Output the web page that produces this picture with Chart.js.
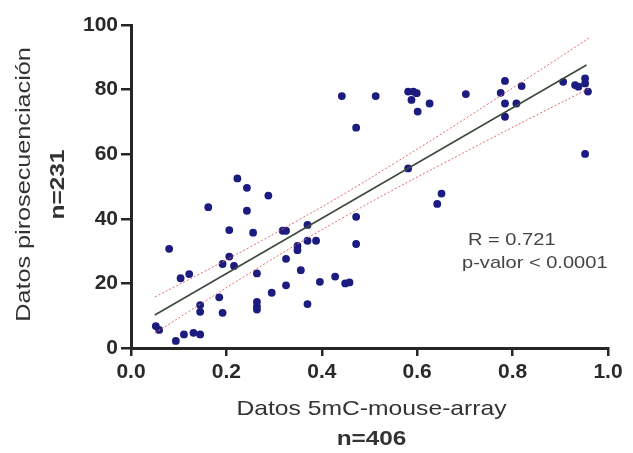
<!DOCTYPE html>
<html lang="es">
<head>
  <meta charset="UTF-8" />
  <title>Correlación pirosecuenciación vs 5mC-mouse-array</title>
  <script src="https://cdn.jsdelivr.net/npm/chart.js"></script>
  <style>
    html, body {
      margin: 0;
      padding: 0;
      background: #ffffff;
    }
    canvas {
      display: block;
    }
  </style>
</head>
<body>
  <canvas id="chart" width="633" height="453"></canvas>

  <script>
    // scatter values
    const arrayX = [
      0.223, 0.243, 0.288, 0.162, 0.243, 0.472, 0.206, 0.256, 0.318, 0.325,
      0.370, 0.080, 0.349, 0.349, 0.370, 0.388, 0.472, 0.206, 0.192, 0.216,
      0.325, 0.104, 0.122, 0.264, 0.356, 0.396, 0.428, 0.449, 0.458, 0.325,
      0.295, 0.185, 0.145, 0.145, 0.192, 0.264, 0.264, 0.264, 0.370, 0.052,
      0.059, 0.094, 0.111, 0.131, 0.145, 0.442, 0.513, 0.581, 0.592, 0.599,
      0.588, 0.601, 0.626, 0.472, 0.702, 0.784, 0.775, 0.819, 0.784, 0.808,
      0.784, 0.906, 0.931, 0.938, 0.952, 0.952, 0.958, 0.952, 0.581, 0.651,
      0.642
    ];
    const piroY = [
      52.5, 49.6, 47.2, 43.6, 42.5, 40.6, 36.5, 35.7, 36.3, 36.3,
      38.1, 30.7, 31.6, 30.3, 33.2, 33.2, 32.2, 28.3, 26.0, 25.4,
      27.6, 21.6, 22.9, 23.1, 24.1, 20.5, 22.1, 20.0, 20.3, 19.4,
      17.1, 15.7, 13.3, 11.2, 10.9, 14.3, 12.9, 11.9, 13.6, 6.8,
      5.6, 2.2, 4.2, 4.7, 4.2, 78.0, 78.0, 79.4, 79.4, 78.9,
      76.8, 73.2, 75.7, 68.2, 78.6, 82.7, 79.0, 81.1, 75.7, 75.7,
      71.6, 82.4, 81.4, 80.9, 83.5, 81.9, 79.4, 60.1, 55.6, 47.8,
      44.6
    ];

    // fitted line and 95% band, read at a few x positions
    const fitX = [0.05, 0.955];
    const fitY = [10.2, 87.6];
    const bandX = [0.05, 0.15, 0.25, 0.35, 0.45, 0.55, 0.65, 0.75, 0.85, 0.96];
    const bandUpper = [15.8, 23.4, 31.3, 39.5, 48.0, 57.0, 66.2, 75.7, 85.3, 95.9];
    const bandLower = [4.6, 14.0, 23.3, 32.3, 40.8, 49.0, 56.8, 64.5, 72.1, 80.3];

    const xTicks = [0, 0.2, 0.4, 0.6, 0.8, 1.0];
    const yTicks = [0, 20, 40, 60, 80, 100];

    const toPoints = (xs, ys) => xs.map((x, i) => ({ x: x, y: ys[i] }));

    const axisColor = "#262626";
    const textColor = "#333333";
    const sans = "'Liberation Sans', Arial, sans-serif";

    // draw text stretched along its own direction (the original font is wide)
    function wideText(ctx, text, x, y, font, sx, rotate) {
      ctx.save();
      ctx.translate(x, y);
      if (rotate) ctx.rotate(-Math.PI / 2);
      ctx.scale(sx, 1);
      ctx.font = font;
      ctx.fillText(text, 0, 0);
      ctx.restore();
    }

    const labelsPlugin = {
      id: "labels",
      afterDraw(chart) {
        const ctx = chart.ctx;
        const xs = chart.scales.x;
        const ys = chart.scales.y;
        const area = chart.chartArea;
        const midX = (area.left + area.right) / 2 + 2;
        const midY = (area.top + area.bottom) / 2 - 2;

        ctx.save();
        ctx.fillStyle = textColor;
        ctx.textBaseline = "alphabetic";

        // axis titles
        ctx.textAlign = "center";
        wideText(ctx, "Datos 5mC-mouse-array", midX, 415, "21px " + sans, 1.175, false);
        wideText(ctx, "n=406", midX, 445, "bold 21px " + sans, 1.16, false);
        wideText(ctx, "Datos pirosecuenciación", 30, midY, "21px " + sans, 1.2, true);
        wideText(ctx, "n=231", 64, midY, "bold 20px " + sans, 1.22, true);

        // statistics note
        ctx.textAlign = "left";
        ctx.fillStyle = "#444444";
        wideText(ctx, "R = 0.721", xs.getPixelForValue(0.7065), ys.getPixelForValue(31.9), "17px " + sans, 1.18, false);
        wideText(ctx, "p-valor < 0.0001", xs.getPixelForValue(0.694), ys.getPixelForValue(24.8), "17px " + sans, 1.18, false);
        ctx.restore();
      }
    };

    new Chart(document.getElementById("chart").getContext("2d"), {
      type: "scatter",
      data: {
        datasets: [
          {
            label: "Límite superior",
            type: "line",
            data: toPoints(bandX, bandUpper),
            borderColor: "#e06a6a",
            borderWidth: 1,
            borderDash: [2, 2],
            pointRadius: 0,
            fill: false,
            tension: 0.4
          },
          {
            label: "Límite inferior",
            type: "line",
            data: toPoints(bandX, bandLower),
            borderColor: "#e06a6a",
            borderWidth: 1,
            borderDash: [2, 2],
            pointRadius: 0,
            fill: false,
            tension: 0.4
          },
          {
            label: "Regresión",
            type: "line",
            data: toPoints(fitX, fitY),
            borderColor: "#3c4a3c",
            borderWidth: 1.6,
            pointRadius: 0,
            fill: false
          },
          {
            label: "Datos",
            data: toPoints(arrayX, piroY),
            backgroundColor: "#1b1b80",
            borderColor: "#1b1b80",
            pointRadius: 3.9,
            pointBorderWidth: 0
          }
        ]
      },
      options: {
        responsive: false,
        animation: false,
        layout: {
          padding: { top: 25, right: 25, left: 0, bottom: 0 }
        },
        plugins: {
          legend: { display: false },
          tooltip: { enabled: false }
        },
        scales: {
          x: {
            type: "linear",
            min: 0,
            max: 1,
            afterFit(scale) { scale.height = 105; },
            afterBuildTicks(scale) { scale.ticks = xTicks.map(v => ({ value: v })); },
            border: { display: true, color: axisColor, width: 3 },
            grid: {
              drawOnChartArea: false,
              drawTicks: true,
              tickLength: 8,
              color: axisColor,
              lineWidth: 2.5
            },
            ticks: {
              padding: 4,
              color: "#2a2a2a",
              font: { family: sans, weight: "bold", size: 21 },
              callback: v => v.toFixed(1)
            }
          },
          y: {
            type: "linear",
            min: 0,
            max: 100,
            afterFit(scale) { scale.width = 131; },
            afterBuildTicks(scale) { scale.ticks = yTicks.map(v => ({ value: v })); },
            border: { display: true, color: axisColor, width: 3 },
            grid: {
              drawOnChartArea: false,
              drawTicks: true,
              tickLength: 10,
              color: axisColor,
              lineWidth: 2.5
            },
            ticks: {
              padding: 3,
              color: "#2a2a2a",
              font: { family: sans, weight: "bold", size: 21 }
            }
          }
        }
      },
      plugins: [labelsPlugin]
    });
  </script>
</body>
</html>
